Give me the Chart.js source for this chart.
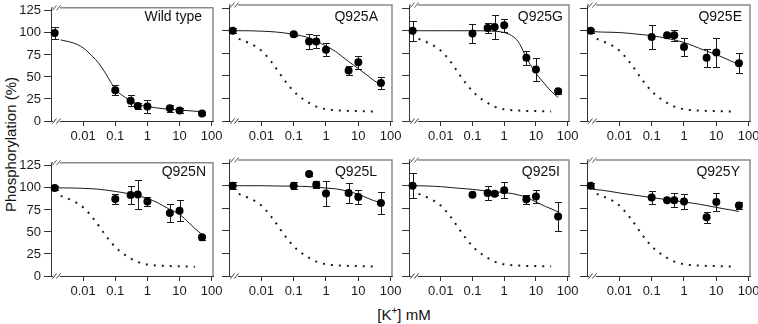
<!DOCTYPE html>
<html>
<head>
<meta charset="utf-8">
<script src="https://cdn.jsdelivr.net/npm/chart.js@4.4.0/dist/chart.umd.min.js"></script>
<style>
    body { margin: 0; background: #fff; }
    #fig { position: relative; width: 758px; height: 324px; font-family: "Liberation Sans", Arial, sans-serif; color: #111; overflow: hidden; }
    #fig canvas { position: absolute; }
    .ptitle { position: absolute; font-size: 14px; line-height: 16px; white-space: nowrap; text-align: right; }
    #xtitle { position: absolute; left: 304px; width: 200px; top: 306px; text-align: center; font-size: 15px; line-height: 17px; }
    #xtitle sup { font-size: 10px; line-height: 0; }
    #ytitle { position: absolute; left: -90px; width: 200px; top: 136px; text-align: center; font-size: 15px; line-height: 17px; transform: rotate(-90deg); }
</style>
</head>
<body>
<div id="fig">
    <div id="ytitle">Phosphorylation (%)</div>
    <div id="xtitle">[K<sup>+</sup>] mM</div>
</div>
<script>
// [K+] in mM, the 0 mM control is drawn at the left edge of the broken axis
const concentrations = [0.0013, 0.1, 0.3, 0.5, 1, 5, 10, 50];

const wtMean = [100, 35, 23, 17, 16.5, 14.5, 12, 8.5];
const wtErr = [7, 6, 6, 3, 7, 4, 3, 2];
const q925aMean = [100, 96, 88, 88, 79, 56, 65, 42];
const q925aErr = [3, 2, 8, 7, 7, 5, 7, 7];
const q925gMean = [100, 97, 103, 104, 106, 70, 57, 33];
const q925gErr = [11, 11, 6, 13, 7, 8, 13, 3];
const q925eMean = [100, 93, 95, 95, 82, 70, 76, 64];
const q925eErr = [2, 13, 2, 6, 10, 10, 16, 11];
const q925nMean = [100, 87.5, 92, 92.5, 84.5, 71.5, 74, 44];
const q925nErr = [2, 6, 10, 16, 5, 10, 12, 3];
const q925lMean = [100, 100, 113, 101, 91.5, 92, 87.5, 81];
const q925lErr = [4, 4, 2, 4, 14, 11, 8, 12];
const q925iMean = [100, 90, 92, 91, 95, 85, 88, 66];
const q925iErr = [14, 1, 8, 1, 9, 5, 7, 16];
const q925yMean = [100, 87, 84, 84, 82.5, 65, 82, 78];
const q925yErr = [3, 7, 1, 8, 8, 6, 10, 4];

// fitted curves
const fitX = [0.0015, 0.003, 0.01, 0.03, 0.1, 0.3, 1, 2, 3, 5, 10, 20, 30, 50];
const q925aFit = [100, 100, 99.5, 98.5, 96, 92, 83, 77, 72, 66, 58, 50, 45, 40];
const q925gFit = [100, 100, 100, 100, 100, 99.7, 98, 93, 86, 70, 53, 40, 33, 26];
const q925eFit = [99, 98.5, 98, 96.5, 94.5, 91.5, 87, 83, 80.5, 77.5, 73.5, 69, 66, 63];
const q925nFit = [100, 100, 99.5, 98.5, 96, 93, 88, 83.5, 80, 75.5, 70, 60, 54, 47];
const q925lFit = [100, 100, 100, 99.7, 99.5, 99, 97.5, 96.5, 95.5, 93.5, 90.5, 86, 83.5, 81];
const q925iFit = [100, 99.8, 99, 97.5, 96, 94, 92.5, 91, 89.5, 87, 82, 77, 74.5, 71];
const q925yFit = [96, 95, 92, 89.5, 87, 84.5, 82, 80.5, 79.5, 78, 76, 74, 73, 71.5];

const wtFitX = [0.002, 0.005, 0.01, 0.02, 0.03, 0.05, 0.07, 0.1, 0.2, 0.3, 0.5, 1, 3, 10, 50];
const wtFitY = [92, 88.5, 83, 73, 66, 54, 45, 36, 27, 23, 19, 16.5, 14, 12.5, 10.5];

// dotted wild type curve repeated in the mutant panels
const refX = [0.002, 0.005, 0.01, 0.02, 0.035, 0.05, 0.1, 0.2, 0.5, 1, 3, 10, 30];
const refY = [91, 85, 78, 66, 54, 46, 33, 24, 16, 13, 11.5, 11, 10.5];

const xTicks = [0.01, 0.1, 1, 10, 100];
const yTicks = [0, 25, 50, 75, 100, 125];

const panels = [
    { name: 'Wild type', mean: wtMean, err: wtErr, fx: wtFitX, fy: wtFitY, ref: false },
    { name: 'Q925A', mean: q925aMean, err: q925aErr, fx: fitX, fy: q925aFit, ref: true },
    { name: 'Q925G', mean: q925gMean, err: q925gErr, fx: fitX, fy: q925gFit, ref: true },
    { name: 'Q925E', mean: q925eMean, err: q925eErr, fx: fitX, fy: q925eFit, ref: true },
    { name: 'Q925N', mean: q925nMean, err: q925nErr, fx: fitX, fy: q925nFit, ref: true },
    { name: 'Q925L', mean: q925lMean, err: q925lErr, fx: fitX, fy: q925lFit, ref: true },
    { name: 'Q925I', mean: q925iMean, err: q925iErr, fx: fitX, fy: q925iFit, ref: true },
    { name: 'Q925Y', mean: q925yMean, err: q925yErr, fx: fitX, fy: q925yFit, ref: true }
];

// grid layout: plot area edges in page pixels
const colLeft = [51, 229, 409, 587];
const colRight = [213, 392, 569, 750];
const rowTop = [5, 160];
const rowBottom = [121, 276];
const titleRight = [202, 378, 563, 742, 206, 377, 560, 740];
const titleMid = [16, 171];

const PAD_L = 40, PAD_R = 14, PAD_T = 8, PAD_B = 30;
const FONT = '"Liberation Sans", Arial, sans-serif';
const AXIS = '#333';
const INK = '#1a1a1a';

const errorBars = {
    id: 'errorBars',
    beforeDatasetsDraw(chart) {
        const ctx = chart.ctx, x = chart.scales.x, y = chart.scales.y;
        chart.data.datasets.forEach(ds => {
            if (!ds.errors) return;
            ctx.save();
            ctx.strokeStyle = INK;
            ctx.lineWidth = 1;
            ds.data.forEach((pt, k) => {
                const e = ds.errors[k];
                const px = Math.round(x.getPixelForValue(pt.x)) + 0.5;
                const top = Math.round(y.getPixelForValue(pt.y + e)) + 0.5;
                const bot = Math.round(y.getPixelForValue(pt.y - e)) + 0.5;
                ctx.beginPath();
                ctx.moveTo(px, top); ctx.lineTo(px, bot);
                ctx.moveTo(px - 3.5, top); ctx.lineTo(px + 3.5, top);
                ctx.moveTo(px - 3.5, bot); ctx.lineTo(px + 3.5, bot);
                ctx.stroke();
            });
            ctx.restore();
        });
    }
};

// grey top/right frame and the // axis break marks
const frame = {
    id: 'frame',
    afterDraw(chart) {
        const ctx = chart.ctx, a = chart.chartArea;
        ctx.save();
        ctx.strokeStyle = '#8a8a8a';
        ctx.lineWidth = 1.5;
        ctx.beginPath();
        ctx.moveTo(a.left, a.top);
        ctx.lineTo(a.right, a.top);
        ctx.lineTo(a.right, a.bottom);
        ctx.stroke();
        [a.top, a.bottom].forEach(yy => {
            ctx.fillStyle = '#fff';
            ctx.fillRect(a.left + 2, yy - 1.5, 7, 3);
            ctx.strokeStyle = yy === a.top ? '#555' : AXIS;
            ctx.lineWidth = 1;
            ctx.beginPath();
            [a.left + 3, a.left + 7].forEach(bx => {
                ctx.moveTo(bx - 1.5, yy + 2.5);
                ctx.lineTo(bx + 2.5, yy - 2.5);
            });
            ctx.stroke();
        });
        ctx.restore();
    }
};

const fig = document.getElementById('fig');

panels.forEach((p, i) => {
    const col = i % 4, row = Math.floor(i / 4);
    const w = colRight[col] - colLeft[col] + PAD_L + PAD_R;
    const h = rowBottom[row] - rowTop[row] + PAD_T + PAD_B;
    const canvas = document.createElement('canvas');
    canvas.width = w;
    canvas.height = h;
    canvas.style.width = w + 'px';
    canvas.style.height = h + 'px';
    canvas.style.left = (colLeft[col] - PAD_L) + 'px';
    canvas.style.top = (rowTop[row] - PAD_T) + 'px';
    fig.appendChild(canvas);

    const title = document.createElement('div');
    title.className = 'ptitle';
    title.textContent = p.name;
    title.style.right = (758 - titleRight[i]) + 'px';
    title.style.top = (titleMid[row] - 8) + 'px';
    fig.appendChild(title);

    const datasets = [{
        data: concentrations.map((c, k) => ({ x: c, y: p.mean[k] })),
        errors: p.err,
        pointRadius: 4,
        pointBackgroundColor: '#000',
        pointBorderColor: '#000',
        pointBorderWidth: 0,
        clip: false
    }, {
        data: p.fx.map((c, k) => ({ x: c, y: p.fy[k] })),
        showLine: true,
        pointRadius: 0,
        borderColor: INK,
        borderWidth: 1,
        cubicInterpolationMode: 'monotone',
        clip: false
    }];
    if (p.ref) {
        datasets.push({
            data: refX.map((c, k) => ({ x: c, y: refY[k] })),
            showLine: true,
            pointRadius: 0,
            borderColor: INK,
            borderWidth: 2,
            borderDash: [2, 6],
            cubicInterpolationMode: 'monotone',
            clip: false
        });
    }

    new Chart(canvas, {
        type: 'scatter',
        data: { datasets: datasets },
        options: {
            responsive: false,
            animation: false,
            events: [],
            layout: { padding: { top: PAD_T, right: PAD_R, left: 0, bottom: 0 } },
            plugins: { legend: { display: false }, tooltip: { enabled: false } },
            scales: {
                x: {
                    type: 'logarithmic',
                    min: 0.001,
                    max: 110,
                    afterBuildTicks: s => { s.ticks = xTicks.map(v => ({ value: v })); },
                    afterFit: s => { s.height = PAD_B; },
                    grid: { drawOnChartArea: false, drawTicks: true, tickLength: 5, color: AXIS },
                    border: { color: AXIS, width: 1 },
                    ticks: {
                        autoSkip: false, maxRotation: 0, padding: 3, color: INK,
                        font: { size: 13, family: FONT },
                        callback: v => String(v)
                    }
                },
                y: {
                    min: 0,
                    max: 128.5,
                    afterBuildTicks: s => { s.ticks = yTicks.map(v => ({ value: v })); },
                    afterFit: s => { s.width = PAD_L; },
                    grid: { drawOnChartArea: false, drawTicks: true, tickLength: 7, color: AXIS },
                    border: { color: AXIS, width: 1 },
                    ticks: {
                        display: col === 0, padding: 3, color: INK,
                        font: { size: 13, family: FONT },
                        callback: v => String(v)
                    }
                }
            }
        },
        plugins: [errorBars, frame]
    });
});
</script>
</body>
</html>
